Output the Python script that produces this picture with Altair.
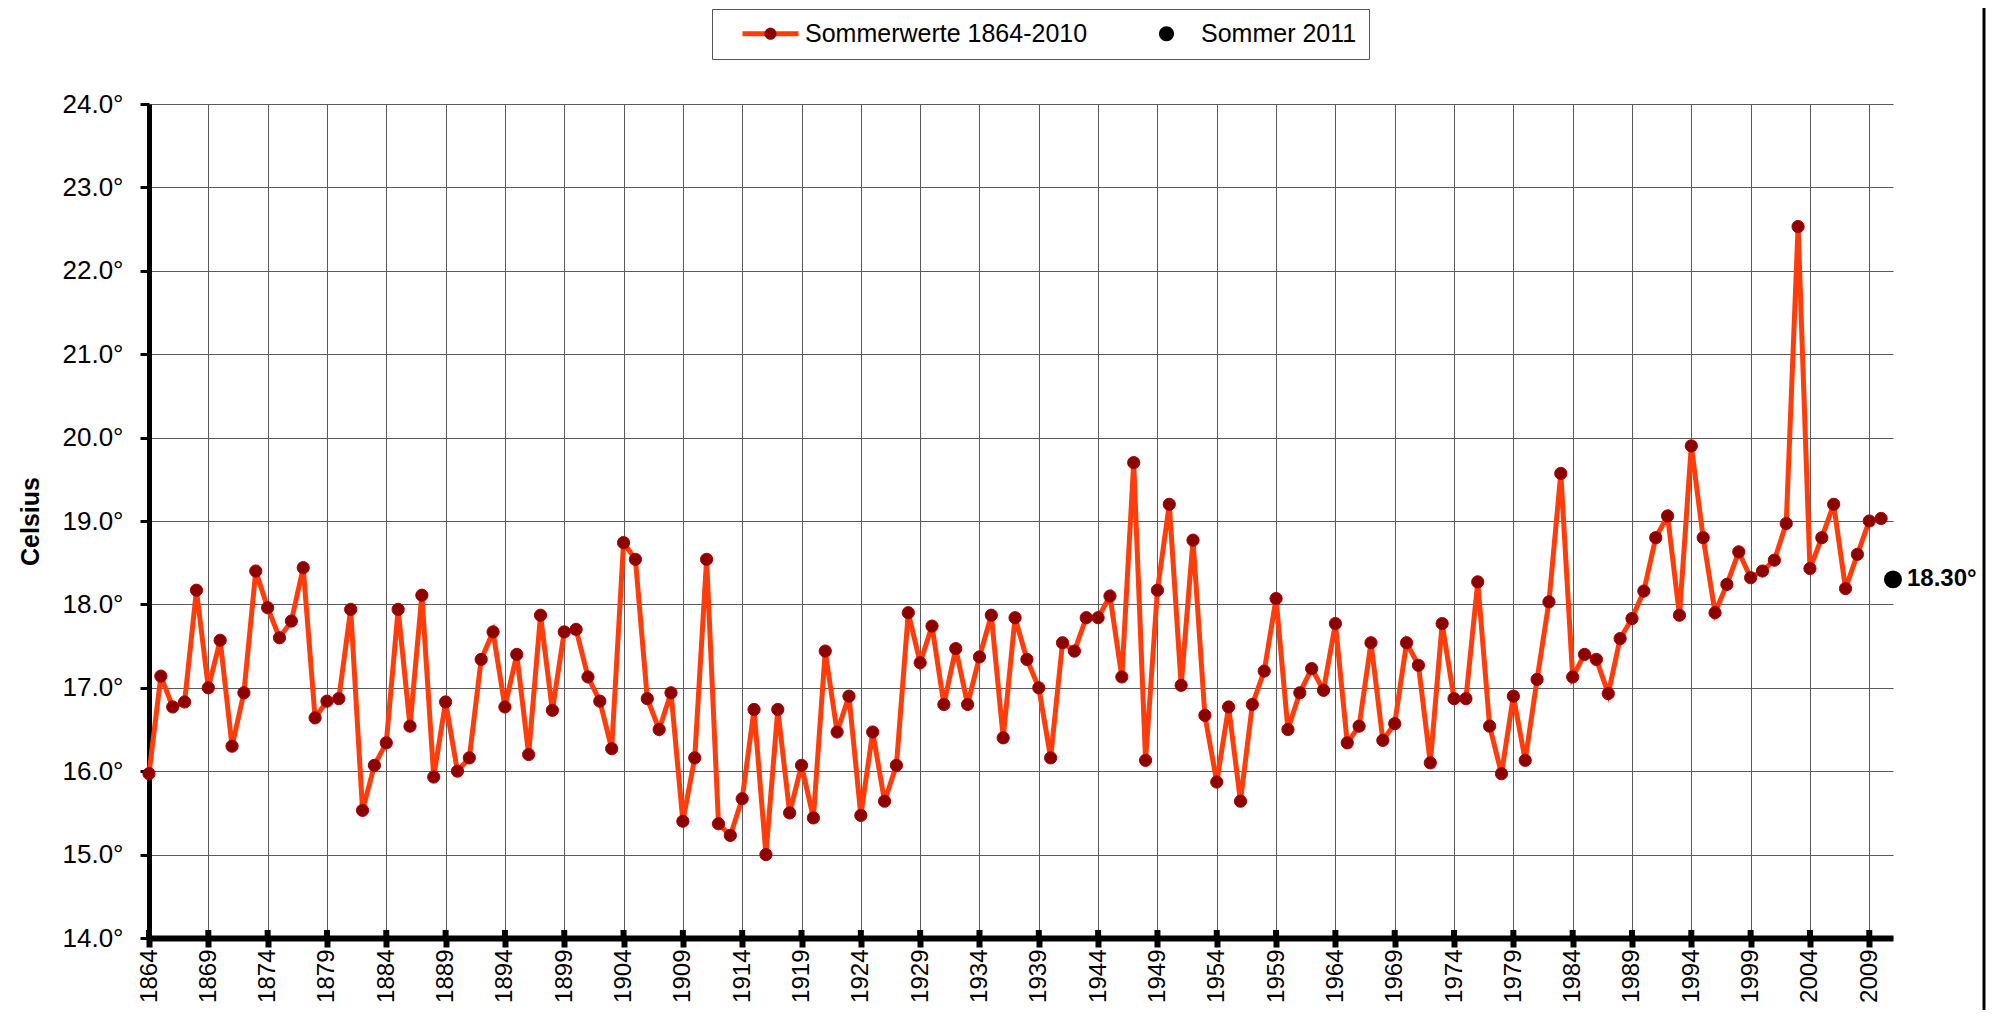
import altair as alt
import pandas as pd

# ---------------- data ----------------
values = [
    15.97, 17.14, 16.77, 16.83, 18.17, 17.00, 17.57, 16.30, 16.94, 18.40,   # 1864-1873
    17.96, 17.60, 17.80, 18.44, 16.64, 16.84, 16.87, 17.94, 15.53, 16.07,   # 1874-1883
    16.34, 17.94, 16.54, 18.11, 15.93, 16.83, 16.00, 16.16, 17.34, 17.67,   # 1884-1893
    16.77, 17.40, 16.20, 17.87, 16.73, 17.67, 17.70, 17.13, 16.84, 16.27,   # 1894-1903
    18.74, 18.54, 16.87, 16.50, 16.94, 15.40, 16.16, 18.54, 15.37, 15.23,   # 1904-1913
    15.67, 16.74, 15.00, 16.74, 15.50, 16.07, 15.44, 17.44, 16.47, 16.90,   # 1914-1923
    15.47, 16.47, 15.64, 16.07, 17.90, 17.30, 17.74, 16.80, 17.47, 16.80,   # 1924-1933
    17.37, 17.87, 16.40, 17.84, 17.34, 17.00, 16.16, 17.54, 17.44, 17.84,   # 1934-1943
    17.84, 18.10, 17.13, 19.70, 16.13, 18.17, 19.20, 17.03, 18.77, 16.67,   # 1944-1953
    15.87, 16.77, 15.64, 16.80, 17.20, 18.07, 16.50, 16.94, 17.23, 16.97,   # 1954-1963
    17.77, 16.34, 16.54, 17.54, 16.37, 16.57, 17.54, 17.27, 16.10, 17.77,   # 1964-1973
    16.87, 16.87, 18.27, 16.54, 15.97, 16.90, 16.13, 17.10, 18.03, 19.57,   # 1974-1983
    17.13, 17.40, 17.34, 16.93, 17.59, 17.83, 18.16, 18.80, 19.06, 17.87,   # 1984-1993
    19.90, 18.80, 17.90, 18.24, 18.63, 18.32, 18.40, 18.53, 18.97, 22.53,   # 1994-2003
    18.43, 18.80, 19.20, 18.19, 18.60, 19.00, 19.03,                        # 2004-2010
]
years = list(range(1864, 1864 + len(values)))
tick_years = list(range(1864, 2010, 5))
y_ticks = list(range(14, 25))
year_2011 = 2011
value_2011 = 18.30
series_names = ["Sommerwerte 1864-2010", "Sommer 2011"]

df = pd.DataFrame({"year": years, "temp": values, "series": series_names[0]})
df11 = pd.DataFrame({"year": [year_2011], "temp": [value_2011],
                     "series": [series_names[1]],
                     "label": [f"{value_2011:.2f}°"]})
dticks = pd.DataFrame({"year": tick_years})

# ---------------- style ----------------
W, H = 1744, 834
FONT = "Liberation Sans"
LINE_COLOR = "#FF3C0A"
DOT_COLOR = "#8B0000"
GRID = "#5a5a5a"

xscale = alt.Scale(domain=[1864, 2011], nice=False, zero=False)
yscale = alt.Scale(domain=[14, 24], nice=False, zero=False)

x_axis = alt.Axis(values=tick_years, format="d", labelAngle=-90, labelFont=FONT,
                  labelFontSize=24, labelColor="black", labelPadding=2,
                  labelFlush=False, labelOverlap=False,
                  tickSize=9, tickWidth=6, tickColor="black",
                  domainColor="black", domainWidth=6,
                  grid=True, gridColor=GRID, gridWidth=1, title=None)
y_axis = alt.Axis(values=y_ticks, labelExpr="format(datum.value, '.1f') + '°'",
                  labelFont=FONT, labelFontSize=26, labelColor="black",
                  labelPadding=17, tickSize=9, tickWidth=3, tickColor="black",
                  domainColor="black", domainWidth=5,
                  grid=True, gridColor=GRID, gridWidth=1,
                  title="Celsius", titleFont=FONT, titleFontSize=25,
                  titleFontWeight="bold", titleColor="black",
                  titleX=-119, titleBaseline="middle")

X = alt.X("year:Q", scale=xscale, axis=x_axis)
Y = alt.Y("temp:Q", scale=yscale, axis=y_axis)

LEG_X, LEG_Y = 563, -95
common_leg = dict(orient="none", legendX=LEG_X, legendY=LEG_Y, direction="horizontal",
                  columns=2, title=None, padding=12, symbolSize=400,
                  labelFont=FONT, labelFontSize=25, labelOffset=56, labelLimit=600,
                  columnPadding=32, symbolOpacity=1)

leg_line = alt.Legend(symbolType="M0.6,0L6.2,0", symbolStrokeWidth=5,
                      labelColor="transparent", zindex=1, **common_leg)
leg_dot = alt.Legend(symbolStrokeWidth=0, labelColor="black",
                     strokeColor="#555555", zindex=2, **common_leg)

path_dot1 = "M2.8,0A0.6,0.6,0,1,1,4,0A0.6,0.6,0,1,1,2.8,0Z"
path_dot2 = "M2.65,0A0.75,0.75,0,1,1,4.15,0A0.75,0.75,0,1,1,2.65,0Z"

# ---------------- layers ----------------
base = alt.Chart(df)

line = base.mark_line(color=LINE_COLOR, strokeWidth=5).encode(x=X, y=Y)
dots = base.mark_circle(fill=DOT_COLOR, stroke="#B00000", strokeWidth=1,
                        size=150, opacity=1).encode(x=X, y=Y)

ticks = alt.Chart(dticks).mark_rule(color="black", strokeWidth=6).encode(
    x=X, y=alt.value(H - 8), y2=alt.value(H))

p11 = alt.Chart(df11).mark_circle(color="black", size=320, opacity=1).encode(x=X, y=Y)
t11 = alt.Chart(df11).mark_text(align="left", baseline="middle", dx=14, font=FONT,
                                fontSize=24, fontWeight="bold", color="black").encode(
    x=X, y=Y, text="label:N")

legend_line_layer = base.transform_filter("false").mark_line(strokeWidth=5).encode(
    x=X, y=Y,
    color=alt.Color("series:N",
                    scale=alt.Scale(domain=[series_names[0], series_names[1] + "\u200b"],
                                    range=[LINE_COLOR, "transparent"]),
                    legend=leg_line))

legend_dot_layer = base.transform_filter("false").mark_point(filled=True, opacity=1).encode(
    x=X, y=Y,
    fill=alt.Fill("series:N",
                  scale=alt.Scale(domain=series_names, range=[DOT_COLOR, "black"]),
                  legend=leg_dot),
    shape=alt.Shape("series:N",
                    scale=alt.Scale(domain=series_names, range=[path_dot1, path_dot2]),
                    legend=leg_dot))

border = alt.Chart(pd.DataFrame({"k": [0]})).mark_rule(color="black", strokeWidth=3).encode(
    x=alt.value(1835), y=alt.value(-96), y2=alt.value(H + 72))

chart = alt.layer(line, dots, ticks, p11, t11, legend_line_layer, legend_dot_layer, border).properties(
    width=W, height=H,
    autosize=alt.AutoSizeParams(type="none"),
    padding={"left": 141, "top": 96, "right": 97, "bottom": 72},
    background="white",
).configure_view(stroke=None)

chart.save("out.html", embed_options={"renderer": "svg", "actions": False})
